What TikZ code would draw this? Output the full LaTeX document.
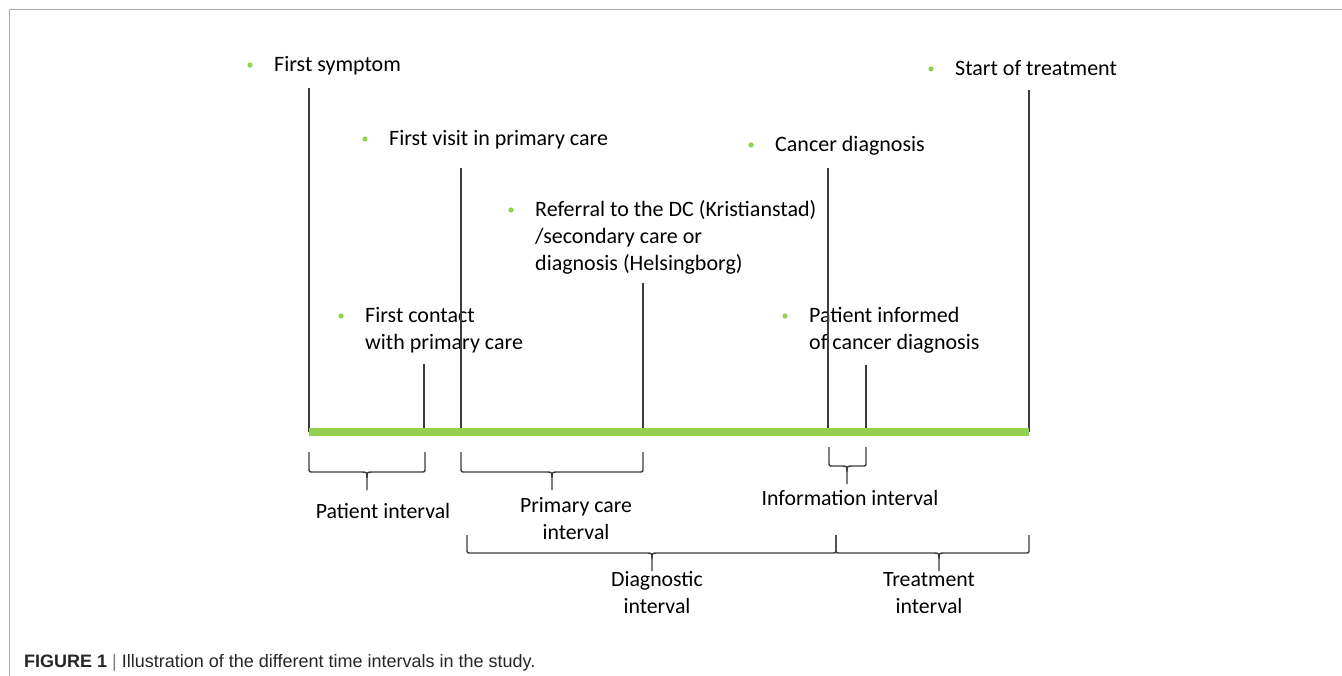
\documentclass[tikz,border=0pt]{standalone}
\usepackage{fontspec}
\setmainfont{Carlito}
\newfontfamily\capfont{Liberation Sans}
\usetikzlibrary{calc}
\definecolor{officegreen}{HTML}{92D050}
\definecolor{linegray}{HTML}{3C3C3C}
\definecolor{framegray}{HTML}{A8A8A8}

% brace below the time line: left x, right x, top y, bottom y, tip x, tip y
\newcommand{\tlbrace}[6]{%
  \draw[brace] (#1,#3) -- (#1,#4-4) .. controls (#1,#4) .. (#1+4,#4)
    -- (#5-6,#4) .. controls (#5,#4) .. (#5,#4+6) -- (#5,#6);
  \draw[brace] (#2,#3) -- (#2,#4-4) .. controls (#2,#4) .. (#2-4,#4)
    -- (#5+6,#4) .. controls (#5,#4) .. (#5,#4+6);
}

\begin{document}
\begin{tikzpicture}[x=1pt,y=-1pt,
  lbl/.style={anchor=base west,inner sep=0pt,align=left,font=\fontsize{22}{27}\selectfont},
  ilbl/.style={anchor=base,inner sep=0pt,align=center,font=\fontsize{21.8}{26.5}\selectfont},
  tick/.style={linegray,line width=1.5pt},
  brace/.style={linegray,line width=1.4pt,line join=round}]
  \useasboundingbox[fill=white] (0,0) rectangle (1342,676);

  % frame of the figure
  \draw[framegray,line width=1.5pt] (9.5,676) -- (9.5,9.5) -- (1342,9.5);

  % points on the time line
  \coordinate (p1) at (309,432); % first symptom
  \coordinate (p2) at (424,432); % first contact
  \coordinate (p3) at (461,432); % first visit
  \coordinate (p4) at (643,432); % referral
  \coordinate (p5) at (828,432); % cancer diagnosis
  \coordinate (p6) at (866,432); % patient informed
  \coordinate (p7) at (1029,432); % start of treatment

  % event labels (base = baseline of the last line)
  \node[lbl] (sym) at (274,72) {First symptom};
  \node[lbl] (visit) at (389,146) {First visit in primary care};
  \node[lbl] (ref) at (535,271) {Referral to the DC (Kristianstad)\\/secondary care or\\diagnosis (Helsingborg)};
  \node[lbl] (cont) at (365,350) {First contact\\with primary care};
  \node[lbl] (diag) at (775,152) {Cancer diagnosis};
  \node[lbl] (inf) at (809,350) {Patient informed\\of cancer diagnosis};
  \node[lbl] (treat) at (955,76) {Start of treatment};
  \foreach \n/\d in {sym/7,visit/7,ref/61,cont/34,diag/7,inf/34,treat/7}
    \fill[officegreen] ([shift={(-24,-\d)}]\n.base west) circle[radius=2.6pt];

  % vertical marks
  \draw[tick] (p1) -- ++(0,-344);
  \draw[tick] (p2) -- ++(0,-68);
  \draw[tick] (p3) -- ++(0,-264);
  \draw[tick] (p4) -- ++(0,-149);
  \draw[tick] (p5) -- ++(0,-264);
  \draw[tick] (p6) -- ++(0,-67);
  \draw[tick] (p7) -- ++(0,-342);

  % the time line
  \draw[officegreen,line width=8pt] (p1) -- (p7);

  % intervals
  \tlbrace{309}{425}{452}{472}{367}{490}
  \tlbrace{461}{643}{452}{472}{552}{490}
  \tlbrace{829}{866}{447}{466}{847}{484}
  \tlbrace{467}{836}{535}{553}{652}{571}
  \tlbrace{836}{1029}{535}{553}{939}{571}
  \node[ilbl] (pint) at (383,518) {Patient interval};
  \node[ilbl] (pcint) at (576,539) {Primary care\\interval};
  \node[ilbl] (iint) at (850,505) {Information interval};
  \node[ilbl] (dint) at (657,613) {Diagnostic\\interval};
  \node[ilbl] (tint) at (929,613) {Treatment\\interval};

  % caption
  \node[anchor=base west,inner sep=0pt,font=\capfont\fontsize{18}{21}\selectfont,text=black!85] (cap) at (24,667)
    {\textbf{FIGURE 1} {\color{black!50}|} Illustration of the different time intervals in the study.};
\end{tikzpicture}
\end{document}
